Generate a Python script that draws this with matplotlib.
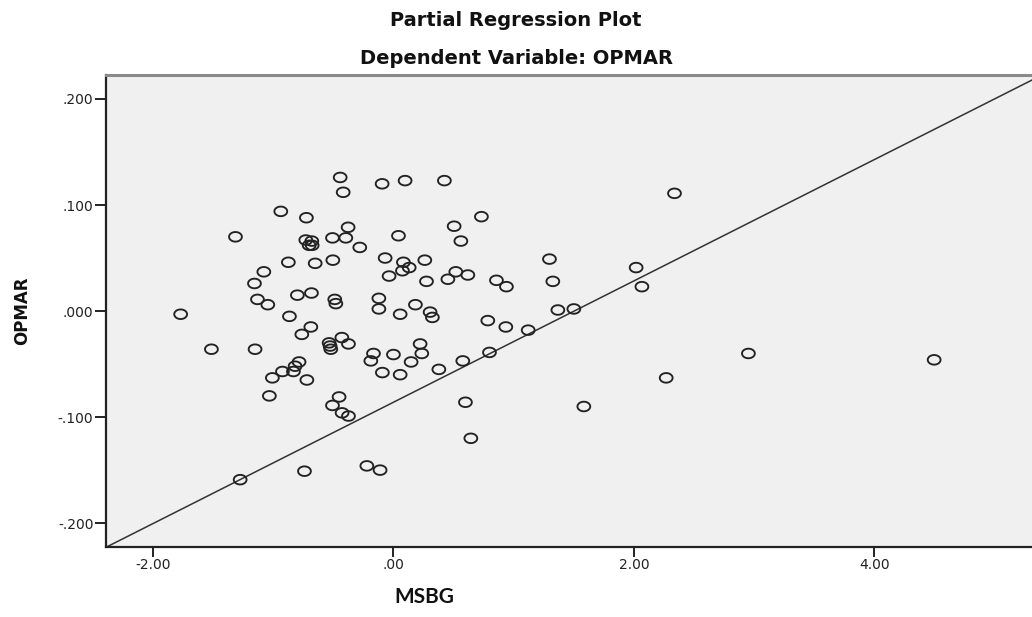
import numpy as np
import matplotlib
matplotlib.use("Agg")
import matplotlib.pyplot as plt
from matplotlib.path import Path

# ---- data ----
msbg = [
    -1.770, -1.514, -1.314, -1.275, -1.151, -1.156, -1.131, -1.078, -1.045, -1.032,
    -1.007, -0.937, -0.923, -0.874, -0.865, -0.832, -0.818, -0.785, -0.799, -0.762,
    -0.740, -0.724, -0.729, -0.679, -0.701, -0.676, -0.720, -0.687, -0.682, -0.651,
    -0.535, -0.527, -0.521, -0.507, -0.504, -0.507, -0.488, -0.479, -0.452, -0.443,
    -0.429, -0.427, -0.418, -0.396, -0.377, -0.374, -0.374, -0.280, -0.221, -0.188,
    -0.166, -0.121, -0.121, -0.111, -0.094, -0.092, -0.069, -0.036, 0.000, 0.042,
    0.056, 0.056, 0.083, 0.075, 0.097, 0.131, 0.147, 0.183, 0.222, 0.236,
    0.261, 0.275, 0.305, 0.324, 0.378, 0.424, 0.453, 0.505, 0.519, 0.561,
    0.577, 0.599, 0.619, 0.644, 0.732, 0.785, 0.799, 0.857, 0.935, 0.940,
    1.121, 1.298, 1.326, 1.368, 1.501, 1.584, 2.019, 2.067, 2.269, 2.338,
    2.953, 4.498,
]
opmar = [
    -0.003, -0.036, 0.070, -0.159, -0.036, 0.026, 0.011, 0.037, 0.006, -0.080,
    -0.063, 0.094, -0.057, 0.046, -0.005, -0.057, -0.052, -0.048, 0.015, -0.022,
    -0.151, 0.088, 0.067, 0.066, 0.062, 0.062, -0.065, -0.015, 0.017, 0.045,
    -0.030, -0.033, -0.036, 0.069, 0.048, -0.089, 0.011, 0.007, -0.081, 0.126,
    -0.025, -0.096, 0.112, 0.069, 0.079, -0.031, -0.099, 0.060, -0.146, -0.047,
    -0.040, 0.012, 0.002, -0.150, 0.120, -0.058, 0.050, 0.033, -0.041, 0.071,
    -0.003, -0.060, 0.046, 0.038, 0.123, 0.041, -0.048, 0.006, -0.031, -0.040,
    0.048, 0.028, -0.001, -0.006, -0.055, 0.123, 0.030, 0.080, 0.037, 0.066,
    -0.047, -0.086, 0.034, -0.120, 0.089, -0.009, -0.039, 0.029, -0.015, 0.023,
    -0.018, 0.049, 0.028, 0.001, 0.002, -0.090, 0.041, 0.023, -0.063, 0.111,
    -0.040, -0.046,
]
fit_intercept = -0.086
fit_slope = 0.0572

x_ticks = [-2.0, 0.0, 2.0, 4.0]
x_tick_labels = ["-2.00", ".00", "2.00", "4.00"]
y_ticks = [-0.2, -0.1, 0.0, 0.1, 0.2]
y_tick_labels = ["-.200", "-.100", ".000", ".100", ".200"]

title_1 = "Partial Regression Plot"
title_2 = "Dependent Variable: OPMAR"
x_label = "MSBG"
y_label = "OPMAR"

# ---- figure ----
W, H = 1032, 617
fig = plt.figure(figsize=(W / 100, H / 100), dpi=100)
ax = fig.add_axes([106 / W, (H - 547) / H, (W - 106) / W, (547 - 75) / H])
ax.set_facecolor("#f0f0f0")

xlim = (-2.391, 5.312)
ylim = (-0.2225, 0.2226)
ax.set_xlim(*xlim)
ax.set_ylim(*ylim)

# slightly wide ellipse marker (the reference is horizontally stretched)
t = np.linspace(0, 2 * np.pi, 60)
ell = Path(np.column_stack([np.cos(t), 0.75 * np.sin(t)]), closed=True)
ax.scatter(msbg, opmar, marker=ell, s=85, facecolors="none",
           edgecolors="#222222", linewidths=1.35, zorder=3)

xs = np.array(xlim)
ax.plot(xs, fit_intercept + fit_slope * xs, color="#333333", lw=1.1, zorder=2)

ax.set_xticks(x_ticks)
ax.set_xticklabels(x_tick_labels)
ax.set_yticks(y_ticks)
ax.set_yticklabels(y_tick_labels)
ax.tick_params(axis="both", direction="out", colors="#222222", labelsize=10,
               width=1.4, labelcolor="#222222")
ax.tick_params(axis="y", length=8, pad=1)
ax.tick_params(axis="x", length=7, pad=1)

for s in ("left", "bottom"):
    ax.spines[s].set_color("#222222")
    ax.spines[s].set_linewidth(1.6)
ax.spines["top"].set_color("#8a8a8a")
ax.spines["top"].set_linewidth(2.2)
ax.spines["right"].set_visible(False)

fig.text(0.5, 1 - 20 / H, title_1, ha="center", va="center",
         fontsize=14, fontweight="bold", family="DejaVu Sans", color="#111111")
fig.text(0.5, 1 - 59 / H, title_2, ha="center", va="center",
         fontsize=14, fontweight="bold", family="DejaVu Sans", color="#111111")
fig.text(424 / W, 1 - 597 / H, x_label, ha="center", va="center",
         fontsize=15, fontweight="bold", family="Lato", color="#111111")
fig.text(22 / W, 1 - 311 / H, y_label, ha="center", va="center", rotation=90,
         fontsize=12, fontweight="bold", family="DejaVu Sans", color="#111111")

fig.savefig("out.png", dpi=100, facecolor="white")
